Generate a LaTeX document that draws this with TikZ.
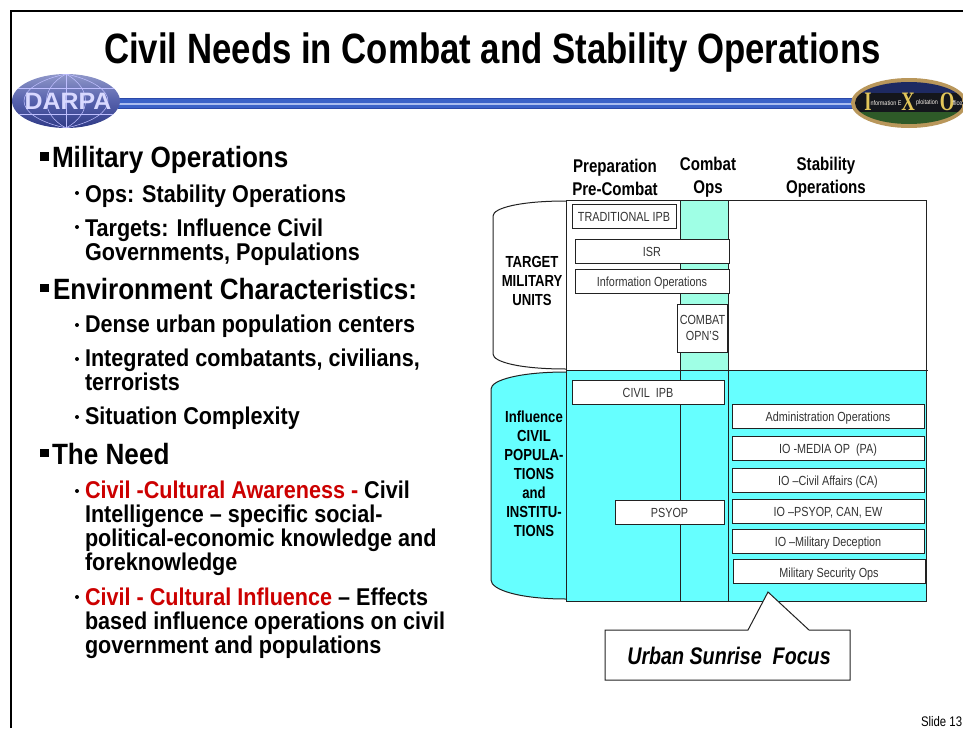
\documentclass[tikz,border=0pt]{standalone}
\usepackage{fontspec}
\setmainfont[FakeStretch=0.82]{Liberation Sans}
\newfontfamily\bodyfont[FakeStretch=0.89]{Liberation Sans}
\newfontfamily\darpafont[FakeStretch=1.05]{Liberation Sans}
\newfontfamily\ixofont[FakeStretch=0.7]{Liberation Serif}
\usetikzlibrary{shapes.geometric}
\definecolor{bandgreen}{HTML}{9FFFE5}
\definecolor{civilcyan}{HTML}{66FFFF}
\definecolor{needred}{HTML}{CC0000}
\definecolor{ruleblue}{HTML}{3A62C8}
\definecolor{ruleedge}{HTML}{2A48A8}
\definecolor{rulelight}{HTML}{A9BDF0}
\definecolor{globetop}{HTML}{8F97C9}
\definecolor{globemid}{HTML}{5661AC}
\definecolor{globelow}{HTML}{2F3A86}
\definecolor{ixogold}{HTML}{B9975B}
\definecolor{ixoletter}{HTML}{E2C65A}
\definecolor{ixonavy}{HTML}{1E2A62}
\definecolor{ixoband}{HTML}{14161C}
\definecolor{ixogreen}{HTML}{2E5A28}
\definecolor{chartline}{HTML}{222222}
\definecolor{boxtext}{HTML}{333333}
\tikzset{
  every node/.style={inner sep=0pt, outer sep=0pt, text=black},
  chartpath/.style={draw=chartline, line width=0.75pt},
  opbox/.style={chartpath, fill=white, text=boxtext, font=\fontsize{9.9}{12}\selectfont, align=center, anchor=center, text height=9.6pt, text depth=1pt},
  lefthead/.style={anchor=base west, font=\bodyfont\fontsize{22}{22}\bfseries\selectfont},
  leftsub/.style={anchor=north west, align=left, font=\bodyfont\fontsize{18.2}{18}\bfseries\selectfont},
  colhead/.style={align=center, font=\fontsize{13.8}{17}\bfseries\selectfont},
  rowhead/.style={align=center, font=\fontsize{12}{14.3}\bfseries\selectfont},
  sqbullet/.style={fill=black, minimum size=6.5pt, anchor=center},
  dotbullet/.style={circle, fill=black, minimum size=3pt, anchor=center},
  globeline/.style={draw=white!75!blue, line width=0.4pt},
  ixoletters/.style={text=ixoletter, font=\ixofont\fontsize{20}{20}\bfseries\selectfont},
  ixosmall/.style={text=white!85!ixogold, font=\fontsize{5}{5}\selectfont}
}
\begin{document}
\begin{tikzpicture}[x=0.75pt,y=-0.75pt]
   \useasboundingbox (0,0) rectangle (963,728);
   \draw[black,line width=1.5pt] (10.5,728) -- (10.5,11) -- (963,11);

   % title and rule
   \node (title) at (492.5,52.5) {\fontsize{31.8}{32}\bfseries\selectfont Civil Needs in Combat and Stability Operations};
   \fill[ruleedge] (118,98) rectangle (856,109);
   \fill[ruleblue] (118,99) rectangle (856,108);
   \fill[rulelight] (118,102.5) rectangle (856,105);

   % left logo
   \node[ellipse,minimum width=81pt,minimum height=40.5pt,top color=globetop,bottom color=globelow,middle color=globemid] (darpa) at (66,101) {};
   \begin{scope}
    \clip (66,101) ellipse [x radius=54,y radius=27];
    \draw[globeline] (66,74) -- (66,128);
    \draw[globeline] (66,74) .. controls (40,88) and (40,114) .. (66,128);
    \draw[globeline] (66,74) .. controls (92,88) and (92,114) .. (66,128);
    \draw[globeline] (66,74) .. controls (10,86) and (10,116) .. (66,128);
    \draw[globeline] (66,74) .. controls (122,86) and (122,116) .. (66,128);
    \draw[globeline] (12,88) -- (120,88);
    \draw[globeline] (12,114) -- (120,114);
   \end{scope}
   \node[text=white!85!blue] (darpatext) at (68,101) {\darpafont\fontsize{17.8}{18}\bfseries\selectfont DARPA};

   % right logo
   \fill[ixogold] (909,103) ellipse [x radius=58,y radius=25];
   \begin{scope}
    \clip (909,103) ellipse [x radius=54,y radius=21];
    \fill[ixonavy] (850,80) rectangle (963,93);
    \fill[ixoband] (850,93) rectangle (963,112);
    \fill[ixogreen] (850,112) rectangle (963,130);
   \end{scope}
   \node[ixoletters] (ixoi) at (868,102) {I};
   \node[ixosmall] (ixonf) at (886,103) {nformation E};
   \node[ixoletters] (ixox) at (908,102) {X};
   \node[ixosmall] (ixopl) at (927,103) {ploitation};
   \node[ixoletters] (ixoo) at (947,102) {O};
   \node[ixosmall,anchor=west] (ixoff) at (952.5,103) {ffice};

   % left column
   \node[sqbullet] (b1) at (44.5,156.5) {};
   \node[lefthead] (milops) at (52,167) {Military Operations};
   \node[dotbullet] (d1) at (77,193) {};
   \node[leftsub] (ops) at (85,185) {Ops: Stability Operations};
   \node[dotbullet] (d2) at (77,227) {};
   \node[leftsub] (targets) at (85,219) {Targets: Influence Civil\\Governments, Populations};
   \node[sqbullet] (b2) at (44.5,288) {};
   \node[lefthead] (envchar) at (53,299) {Environment Characteristics:};
   \node[dotbullet] (d3) at (77,325) {};
   \node[leftsub] (dense) at (85,315) {Dense urban population centers};
   \node[dotbullet] (d4) at (77,359) {};
   \node[leftsub] (integrated) at (85,349) {Integrated combatants, civilians,\\terrorists};
   \node[dotbullet] (d5) at (77,417) {};
   \node[leftsub] (situation) at (85,407) {Situation Complexity};
   \node[sqbullet] (b3) at (44.5,453) {};
   \node[lefthead] (need) at (52,464) {The Need};
   \node[dotbullet] (d6) at (77,491) {};
   \node[leftsub] (awareness) at (85,481) {\textcolor{needred}{Civil -Cultural Awareness -} Civil\\Intelligence – specific social-\\political-economic knowledge and\\foreknowledge};
   \node[dotbullet] (d7) at (77,597) {};
   \node[leftsub] (influence) at (85,588) {\textcolor{needred}{Civil - Cultural Influence} – Effects\\based influence operations on civil\\government and populations};

   % chart background
   \fill[bandgreen] (680,200) rectangle (728,370);
   \fill[civilcyan] (566,370) rectangle (926,601);
   \draw[chartpath,fill=white] (566,201) .. controls (520,201) and (493,208) .. (493,216) -- (493,354) .. controls (493,362) and (520,369) .. (566,369);
   \draw[chartpath,fill=civilcyan] (566,372) .. controls (520,372) and (491,380) .. (491,389) -- (491,580) .. controls (491,590) and (520,599) .. (566,599);
   \draw[chartpath] (566,200) rectangle (926,601);
   \draw[chartpath] (566,370) -- (928,370);
   \draw[chartpath] (680,200) -- (680,601);
   \draw[chartpath] (728,200) -- (728,602);

   \node[colhead] (prep) at (615,177.5) {Preparation\\Pre-Combat};
   \node[colhead] (combat) at (708,177.5) {Combat\\Ops};
   \node[colhead] (stab) at (826,177.5) {Stability\\Operations};
   \node[rowhead] (target) at (532,281) {TARGET\\MILITARY\\UNITS};
   \node[rowhead] (influ) at (534,473.5) {Influence\\CIVIL\\POPULA-\\TIONS\\and\\INSTITU-\\TIONS};

   % boxes
   \node[opbox,minimum width=78pt,minimum height=18pt] (tradipb) at (624,216) {TRADITIONAL IPB};
   \node[opbox,minimum width=115.5pt,minimum height=18pt] (isr) at (652,251) {ISR};
   \node[opbox,minimum width=115.5pt,minimum height=18pt] (infoops) at (652,281) {Information Operations};
   \node[opbox,minimum width=38pt,minimum height=36pt,text height=,text depth=] (combatops) at (702.5,328) {COMBAT\\OPN'S};
   \node[opbox,minimum width=114pt,minimum height=18pt] (civilipb) at (648,392) {CIVIL\ \ IPB};
   \node[opbox,minimum width=81.75pt,minimum height=18pt] (psyop) at (669.5,512) {PSYOP};
   \node[opbox,minimum width=144pt,minimum height=18pt] (admin) at (828,416) {Administration Operations};
   \node[opbox,minimum width=144pt,minimum height=18pt] (media) at (828,448) {IO -MEDIA OP\ \ (PA)};
   \node[opbox,minimum width=144pt,minimum height=18pt] (affairs) at (828,480) {IO --Civil Affairs (CA)};
   \node[opbox,minimum width=144pt,minimum height=18pt] (iopsyop) at (828,511) {IO --PSYOP, CAN, EW};
   \node[opbox,minimum width=144pt,minimum height=18pt] (deception) at (828,541) {IO --Military Deception};
   \node[opbox,minimum width=144pt,minimum height=18pt] (security) at (829,571.5) {Military Security Ops};

   % callout
   \draw[chartpath,fill=white] (605,630) -- (748,630) -- (768,592) -- (809,630) -- (850,630) -- (850,680) -- (605,680) -- cycle;
   \node (focus) at (729,656) {\fontsize{18}{18}\bfseries\itshape\selectfont Urban Sunrise\ \ Focus};

   \node[anchor=base west] (slide) at (921,726) {\fontsize{10.4}{11}\selectfont Slide 13};
\end{tikzpicture}
\end{document}
